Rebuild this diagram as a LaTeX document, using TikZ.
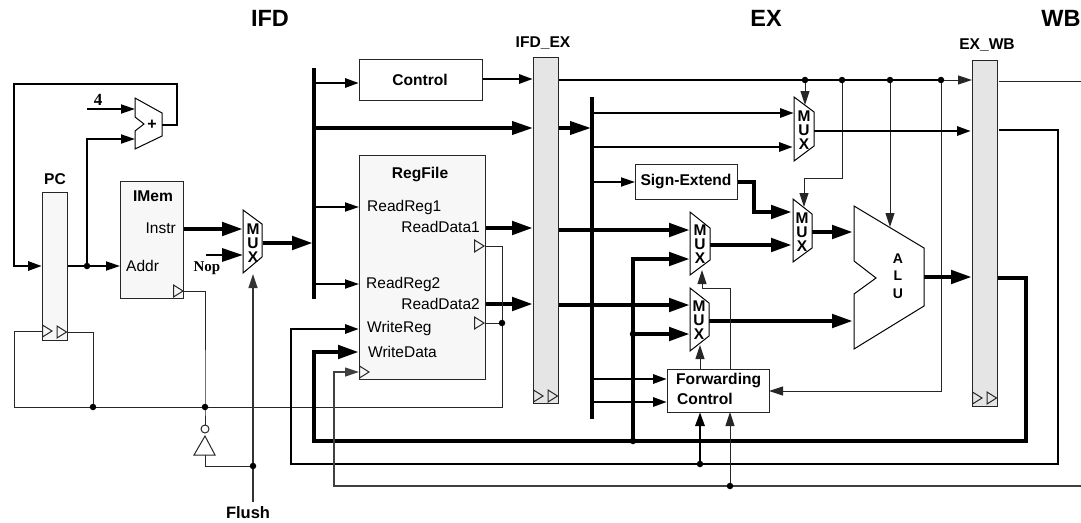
\documentclass[tikz,border=0pt]{standalone}
\usepackage{fontspec}
\setmainfont{Liberation Sans}
\newfontfamily\serifb{Liberation Serif}
\usetikzlibrary{arrows.meta}
\definecolor{lightblk}{HTML}{F7F7F7}
\definecolor{pipeblk}{HTML}{E5E5E5}
\newcommand{\clocktip}[2]{\draw[wt] (#1,#2-6) -- (#1+9.5,#2) -- (#1,#2+6) -- cycle;}
\newcommand{\labelfont}{\fontsize{15.6}{18}\selectfont\bfseries}
\tikzset{
  wt/.style={line width=1pt,draw=black!85},
  wm/.style={line width=1.8pt},
  wb/.style={line width=2.9pt},
  wx/.style={line width=3.8pt},
  wh/.style={line width=4.6pt},
  tipsm/.style={-{Triangle[length=14pt,width=9pt]}},
  tiplg/.style={-{Triangle[length=21pt,width=13pt]}},
  block/.style={draw=black!85,line width=1pt,inner sep=0pt,outer sep=0pt},
  regtxt/.style={inner sep=0pt,font=\fontsize{15.5}{18}\selectfont},
  boldtxt/.style={inner sep=0pt,font=\labelfont},
  muxtxt/.style={inner sep=0pt,align=center,font=\fontsize{15.5}{14}\selectfont\bfseries},
  shapeb/.style={draw=black,line width=1pt,fill=white},
  dotj/.style={circle,fill=black,inner sep=0pt,minimum size=6.5pt},
  titletxt/.style={inner sep=0pt,font=\fontsize{23.5}{26}\selectfont\bfseries},
}
\begin{document}
\begin{tikzpicture}[x=1pt,y=-1pt]
\useasboundingbox (0,0) rectangle (1081,522);

% --- named points ---
\coordinate (addOut) at (162,125);
\coordinate (lpA) at (177,125);
\coordinate (lpB) at (177,84);
\coordinate (lpC) at (14,84);
\coordinate (lpD) at (14,266);
\coordinate (pcIn) at (42,266);
\coordinate (pcOut) at (67,266);
\coordinate (jPc) at (87,266);
\coordinate (addr) at (120,266);
\coordinate (fourS) at (87,109);
\coordinate (fourE) at (135,109);
\coordinate (addUp) at (87,139);
\coordinate (addIn) at (135,139);
\coordinate (instrS) at (183,229);
\coordinate (instrE) at (243,229);
\coordinate (nopS) at (206,255);
\coordinate (nopE) at (243,255);
\coordinate (mux1Out) at (263,243);
\coordinate (busE) at (313,243);
\coordinate (busTop) at (314,68);
\coordinate (busBot) at (314,299);
\coordinate (b1) at (314,83);
\coordinate (b2) at (314,128);
\coordinate (b3) at (314,207);
\coordinate (b4) at (314,284);
\coordinate (ctlIn) at (359,83);
\coordinate (ifd2) at (533,128);
\coordinate (rr1) at (359,207);
\coordinate (rr2) at (359,284);
\coordinate (ctlOut) at (482,79);
\coordinate (ctlPipe) at (533,79);
\coordinate (rd1S) at (486,228);
\coordinate (rd1E) at (533,228);
\coordinate (rd2S) at (485,304);
\coordinate (rd2E) at (533,304);
\coordinate (ckLine1) at (484,246);
\coordinate (ck1c) at (502,246);
\coordinate (ckLine2) at (484,323);
\coordinate (jCk2) at (502,323);
\coordinate (ckBot) at (502,407);
\coordinate (pcCk1) at (42,331);
\coordinate (pcCk1a) at (14,331);
\coordinate (pcCk1b) at (14,407);
\coordinate (pcCk2) at (67,332);
\coordinate (pcCk2a) at (93,332);
\coordinate (jClkA) at (93,407);
\coordinate (jClkB) at (205,407);
\coordinate (imCk) at (183,291);
\coordinate (imCka) at (205,291);
\coordinate (bubTop) at (205,425);
\coordinate (invBot) at (205,455);
\coordinate (invA) at (205,466);
\coordinate (jFlush) at (253,466);
\coordinate (flushS) at (253,502);
\coordinate (flushE) at (253,274);
\coordinate (wrA) at (291,329);
\coordinate (wrB) at (291,464);
\coordinate (wrC) at (1058,464);
\coordinate (wrD) at (1058,130);
\coordinate (wrE) at (999,130);
\coordinate (wrIn) at (359,329);
\coordinate (wdA) at (314,352);
\coordinate (wdB) at (314,441);
\coordinate (wdC) at (1026,441);
\coordinate (wdD) at (1026,278);
\coordinate (wdE) at (997,278);
\coordinate (wdIn) at (359,352);
\coordinate (ckRfA) at (334,372);
\coordinate (ckRfB) at (334,486);
\coordinate (ckRfC) at (1081,486);
\coordinate (ckRfIn) at (359,372);
\coordinate (topS) at (558,80);
\coordinate (j1) at (805,80);
\coordinate (j2) at (842,80);
\coordinate (j3) at (890,80);
\coordinate (j4) at (941,80);
\coordinate (topE) at (972,80);
\coordinate (m3Sel) at (805,105);
\coordinate (m4a) at (842,178);
\coordinate (m4b) at (804,178);
\coordinate (m4Sel) at (804,207);
\coordinate (aluSel) at (890,227);
\coordinate (secS) at (558,128);
\coordinate (secE) at (591,128);
\coordinate (bus2Top) at (592,97);
\coordinate (bus2Bot) at (592,419);
\coordinate (c1) at (592,113);
\coordinate (c2) at (592,147);
\coordinate (c3) at (592,182);
\coordinate (c4) at (592,379);
\coordinate (c5) at (592,402);
\coordinate (c1e) at (794,113);
\coordinate (c2e) at (793,147);
\coordinate (seIn) at (635,182);
\coordinate (seOut) at (737,182);
\coordinate (seA) at (754,182);
\coordinate (seB) at (754,212);
\coordinate (seE) at (792,212);
\coordinate (m3Out) at (814,131);
\coordinate (m3E) at (971,131);
\coordinate (d1S) at (558,230);
\coordinate (d1E) at (690,230);
\coordinate (d2S) at (558,305);
\coordinate (d2E) at (690,305);
\coordinate (fwA) at (633,259);
\coordinate (fwAe) at (690,259);
\coordinate (jFwB) at (633,334);
\coordinate (fwBe) at (690,334);
\coordinate (jFwBot) at (633,441);
\coordinate (m2Out) at (710,245);
\coordinate (m2E) at (792,245);
\coordinate (m4Out) at (812,232);
\coordinate (m4E) at (853,232);
\coordinate (m5Out) at (709,321);
\coordinate (m5E) at (853,321);
\coordinate (aluOut) at (924,277);
\coordinate (aluE) at (972,277);
\coordinate (fc1) at (667,379);
\coordinate (fc2) at (667,402);
\coordinate (fcTop1) at (700,369);
\coordinate (m5Sel) at (700,345);
\coordinate (fcTop2) at (730,369);
\coordinate (sA) at (730,288);
\coordinate (sB) at (702,288);
\coordinate (m2Sel) at (702,270);
\coordinate (fbA) at (941,391);
\coordinate (fbE) at (769,391);
\coordinate (jWr) at (700,464);
\coordinate (fcB1) at (700,412);
\coordinate (jCk) at (730,486);
\coordinate (fcB2) at (730,412);
\coordinate (ctlRight) at (999,81);
\coordinate (ctlRightE) at (1081,81);

% --- wires behind blocks ---
\draw[wb,tipsm] (addOut) -- (lpA) -- (lpB) -- (lpC) -- (lpD) -- (pcIn);
\draw[wm,tipsm] (fourS) -- (fourE);
\draw[wm,tipsm] (jPc) -- (addUp) -- (addIn);
\draw[wm,tipsm] (pcOut) -- (addr);
\draw[wh,tiplg] (instrS) -- (instrE);
\draw[wb,tiplg] (nopS) -- (nopE);
\draw[wh,tiplg] (mux1Out) -- (busE);
\draw[wx] (busTop) -- (busBot);
\draw[wb,tipsm] (b1) -- (ctlIn);
\draw[wx,tiplg] (b2) -- (ifd2);
\draw[wm,tipsm] (b3) -- (rr1);
\draw[wm,tipsm] (b4) -- (rr2);
\draw[wb,tipsm] (ctlOut) -- (ctlPipe);
\draw[wh,tiplg] (rd1S) -- (rd1E);
\draw[wh,tiplg] (rd2S) -- (rd2E);
\draw[wt] (ckLine1) -- (ck1c) -- (ckBot) -- (pcCk1b) -- (pcCk1a) -- (pcCk1);
\draw[wt] (ckLine2) -- (jCk2);
\draw[wt] (pcCk2) -- (pcCk2a) -- (jClkA);
\draw[wt] (imCk) -- (imCka) -- (jClkB) -- (bubTop);
\draw[wt] (invBot) -- (invA) -- (jFlush);
\draw[line width=1.2pt,draw=black!80,tipsm] (flushS) -- (flushE);
\draw[wb,tipsm] (wrE) -- (wrD) -- (wrC) -- (wrB) -- (wrA) -- (wrIn);
\draw[wh,tiplg] (wdE) -- (wdD) -- (wdC) -- (wdB) -- (wdA) -- (wdIn);
\draw[line width=1.2pt,draw=black!75,tipsm] (ckRfC) -- (ckRfB) -- (ckRfA) -- (ckRfIn);
\draw[wb] (topS) -- (j4);
\draw[wt,tipsm] (j4) -- (topE);
\draw[wt,tipsm] (j1) -- (m3Sel);
\draw[wt,tipsm] (j2) -- (m4a) -- (m4b) -- (m4Sel);
\draw[wt,tipsm] (j3) -- (aluSel);
\draw[wt,tipsm] (j4) -- (fbA) -- (fbE);
\draw[wx,tiplg] (secS) -- (secE);
\draw[wx] (bus2Top) -- (bus2Bot);
\draw[wb,tipsm] (c1) -- (c1e);
\draw[wb,tipsm] (c2) -- (c2e);
\draw[wm,tipsm] (c3) -- (seIn);
\draw[wh,tiplg] (seOut) -- (seA) -- (seB) -- (seE);
\draw[wb,tipsm] (m3Out) -- (m3E);
\draw[wh,tiplg] (d1S) -- (d1E);
\draw[wh,tiplg] (d2S) -- (d2E);
\draw[wh,tiplg] (jFwBot) -- (fwA) -- (fwAe);
\draw[wh,tiplg] (jFwB) -- (fwBe);
\draw[wh,tiplg] (m2Out) -- (m2E);
\draw[wh,tiplg] (m4Out) -- (m4E);
\draw[wh,tiplg] (m5Out) -- (m5E);
\draw[wh,tiplg] (aluOut) -- (aluE);
\draw[wb,tipsm] (c4) -- (fc1);
\draw[wb,tipsm] (c5) -- (fc2);
\draw[wt,tipsm] (fcTop1) -- (m5Sel);
\draw[wt,tipsm] (fcTop2) -- (sA) -- (sB) -- (m2Sel);
\draw[wb,tipsm] (jWr) -- (fcB1);
\draw[wt,tipsm] (jCk) -- (fcB2);
\draw[wt] (ctlRight) -- (ctlRightE);

% --- blocks ---
\node[block,fill=lightblk,minimum width=25pt,minimum height=148pt] (pc) at (54.5,266) {};
\node[block,fill=lightblk,minimum width=63pt,minimum height=117pt] (imem) at (151.5,239.5) {};
\node[block,fill=lightblk,minimum width=126pt,minimum height=224pt] (regfile) at (422,267) {};
\node[block,fill=white,minimum width=123pt,minimum height=41pt] (control) at (420.5,79.5) {};
\node[block,fill=pipeblk,minimum width=25pt,minimum height=346pt] (ifdex) at (545.5,230) {};
\node[block,fill=pipeblk,minimum width=25pt,minimum height=346pt] (exwb) at (984.5,233) {};
\node[block,fill=white,minimum width=102pt,minimum height=35pt] (signext) at (686,181.5) {};
\node[block,fill=white,minimum width=102pt,minimum height=43pt] (fwd) at (718,390.5) {};

% adder, muxes, ALU
\draw[shapeb] (135,98) -- (162,113) -- (162,136) -- (135,149) -- (135,131) -- (144,124) -- (135,117) -- cycle;
\draw[shapeb] (243,210) -- (262,224) -- (262,257) -- (243,273) -- cycle;
\draw[shapeb] (794,97) -- (814,112) -- (814,146) -- (794,161) -- cycle;
\draw[shapeb] (793,199) -- (812,214) -- (812,248) -- (793,262) -- cycle;
\draw[shapeb] (690,212) -- (710,228) -- (710,260) -- (690,275) -- cycle;
\draw[shapeb] (690,288) -- (709,303) -- (709,336) -- (690,351) -- cycle;
\draw[shapeb] (854,206) -- (924,248) -- (924,306) -- (854,349) -- (854,294) -- (876,278) -- (854,261) -- cycle;

% inverter
\draw[wt,fill=white] (205,429) circle (4pt);
\draw[wt,fill=white] (205,436) -- (215,455) -- (194,455) -- cycle;

% clock triangles
\clocktip{42.5}{331}
\clocktip{57}{332}
\clocktip{173.5}{291}
\clocktip{474.5}{246}
\clocktip{474.5}{323}
\clocktip{359.5}{372}
\clocktip{533.5}{396}
\clocktip{548}{396}
\clocktip{972.5}{398}
\clocktip{987}{398}

% junctions
\foreach \j in {jPc,jClkA,jClkB,jFlush,jCk2,j1,j2,j3,j4,jFwB,jFwBot,jWr,jCk}
  \node[dotj] (dot\j) at (\j) {};

% --- text ---
\node[titletxt] (tIfd) at (270,18) {IFD};
\node[titletxt] (tEx) at (766,18) {EX};
\node[titletxt] (tWb) at (1061,18) {WB};
\node[inner sep=0pt,font=\fontsize{15.6}{18}\selectfont\bfseries] (tIfdEx) at (543,43) {IFD\_EX};
\node[inner sep=0pt,font=\fontsize{15.6}{18}\selectfont\bfseries] (tExWb) at (987,45) {EX\_WB};
\node[boldtxt] (tPc) at (55,179) {PC};
\node[boldtxt] (tImem) at (153,196) {IMem};
\node[regtxt,anchor=east] (tInstr) at (176,228) {Instr};
\node[regtxt,anchor=west] (tAddr) at (126,266) {Addr};
\node[inner sep=0pt,font=\fontsize{17}{19}\selectfont\bfseries\serifb] (t4) at (98,100) {4};
\node[inner sep=0pt,font=\fontsize{15}{17}\selectfont\bfseries\serifb] (tNop) at (207,268) {Nop};
\node[inner sep=0pt,font=\fontsize{16}{18}\selectfont\bfseries] (tPlus) at (152,125) {+};
\node[boldtxt] (tControl) at (420,80) {Control};
\node[boldtxt] (tRegfile) at (420,174) {RegFile};
\node[regtxt,anchor=west] (tRr1) at (367,207) {ReadReg1};
\node[regtxt,anchor=east] (tRd1) at (480,227) {ReadData1};
\node[regtxt,anchor=west] (tRr2) at (366,284) {ReadReg2};
\node[regtxt,anchor=east] (tRd2) at (480,304) {ReadData2};
\node[regtxt,anchor=west] (tWr) at (367,328) {WriteReg};
\node[regtxt,anchor=west] (tWd) at (368,352) {WriteData};
\node[inner sep=0pt,font=\fontsize{16.5}{18}\selectfont\bfseries] (tFlush) at (248,513) {Flush};
\node[boldtxt] (tSign) at (686,181) {Sign-Extend};
\node[boldtxt,anchor=west] (tFw1) at (676,380) {Forwarding};
\node[boldtxt,anchor=west] (tFw2) at (677,399) {Control};
\node[muxtxt] (tMux1) at (253,243) {M\\U\\X};
\node[muxtxt] (tMux3) at (804,130) {M\\U\\X};
\node[muxtxt] (tMux4) at (802,232) {M\\U\\X};
\node[muxtxt] (tMux2) at (700,244) {M\\U\\X};
\node[muxtxt] (tMux5) at (699,320) {M\\U\\X};
\node[inner sep=0pt,align=center,font=\fontsize{14}{17.5}\selectfont\bfseries] (tAlu) at (898,276) {A\\L\\U};
\end{tikzpicture}
\end{document}
